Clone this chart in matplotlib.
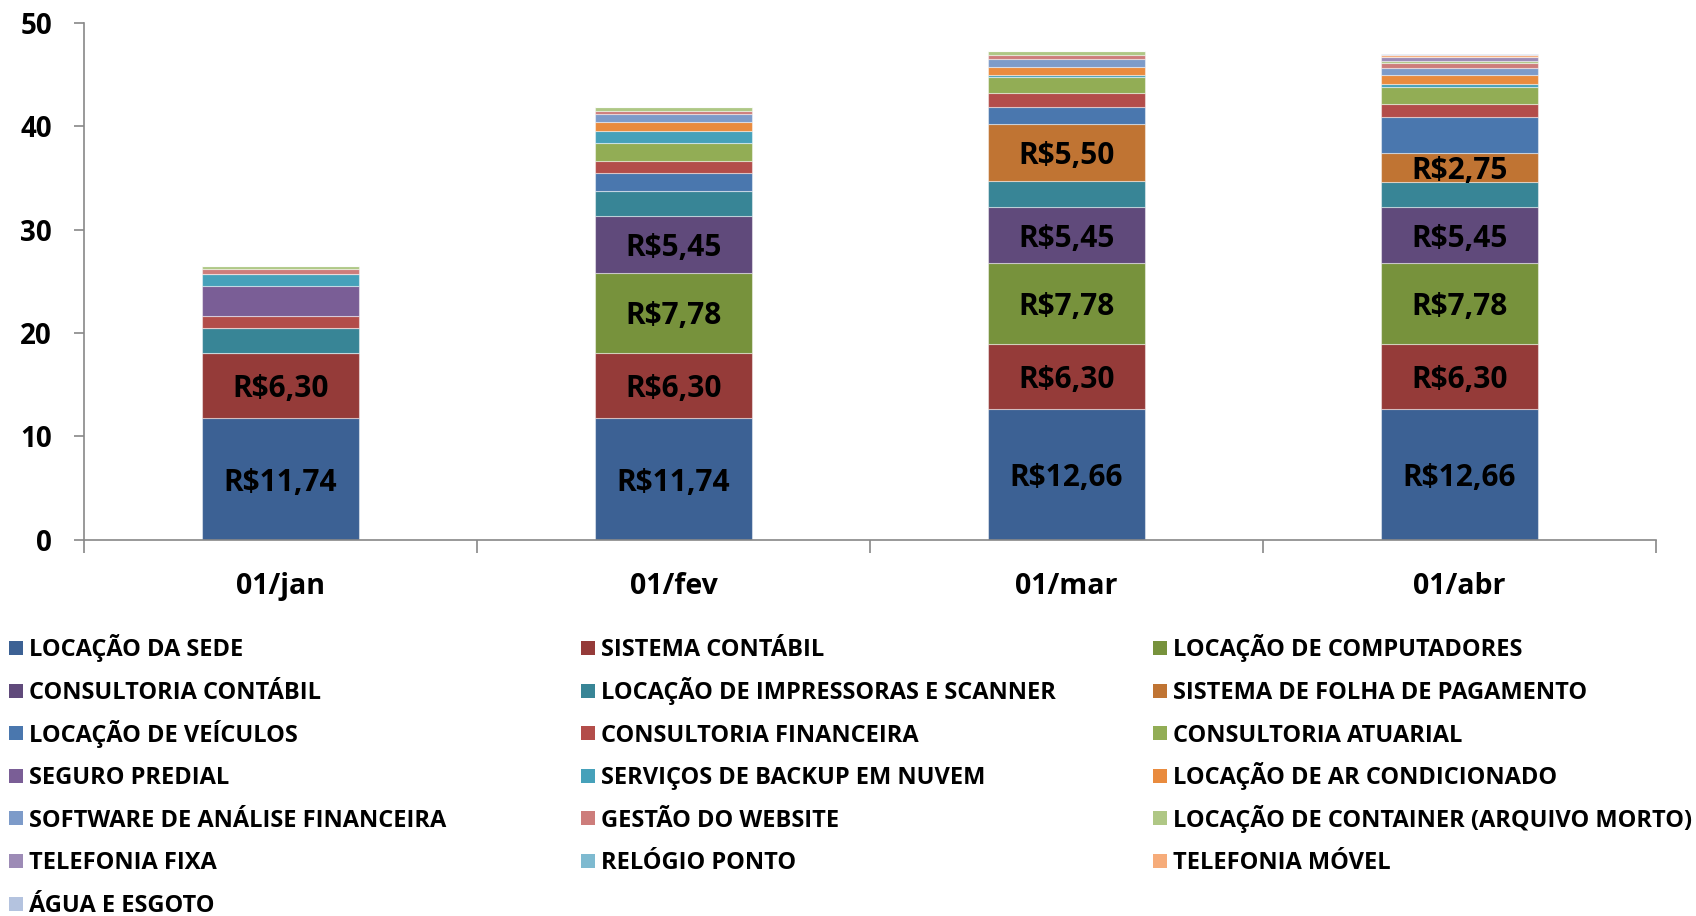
import matplotlib.pyplot as plt
import numpy as np
from matplotlib.patches import Rectangle

plt.rcParams['font.family'] = ['Open Sans', 'DejaVu Sans']
plt.rcParams['font.weight'] = 'bold'

datas = ['01/jan', '01/fev', '01/mar', '01/abr']

sede = [11.74, 11.74, 12.66, 12.66]
sistema_contabil = [6.30, 6.30, 6.30, 6.30]
computadores = [0, 7.78, 7.78, 7.78]
consultoria_contabil = [0, 5.45, 5.45, 5.45]
impressoras = [2.47, 2.42, 2.48, 2.45]
folha_pagamento = [0, 0, 5.50, 2.75]
veiculos = [0, 1.77, 1.71, 3.48]
consultoria_financeira = [1.16, 1.19, 1.29, 1.26]
consultoria_atuarial = [0, 1.71, 1.61, 1.67]
seguro_predial = [2.84, 0, 0, 0]
backup_nuvem = [1.23, 1.20, 0.13, 0.26]
ar_condicionado = [0, 0.81, 0.84, 0.87]
software_analise = [0, 0.77, 0.71, 0.68]
gestao_website = [0.45, 0.35, 0.42, 0.45]
container = [0.32, 0.33, 0.38, 0.26]
telefonia_fixa = [0, 0, 0, 0.35]
relogio_ponto = [0, 0, 0, 0.05]
telefonia_movel = [0, 0, 0, 0.15]
agua_esgoto = [0, 0, 0, 0.10]

series = [
    ('LOCAÇÃO DA SEDE', sede, '#3C6194', True),
    ('SISTEMA CONTÁBIL', sistema_contabil, '#953B39', True),
    ('LOCAÇÃO DE COMPUTADORES', computadores, '#77923C', True),
    ('CONSULTORIA CONTÁBIL', consultoria_contabil, '#604A7B', True),
    ('LOCAÇÃO DE IMPRESSORAS E SCANNER', impressoras, '#388596', False),
    ('SISTEMA DE FOLHA DE PAGAMENTO', folha_pagamento, '#C07433', True),
    ('LOCAÇÃO DE VEÍCULOS', veiculos, '#4A77AE', False),
    ('CONSULTORIA FINANCEIRA', consultoria_financeira, '#B34D4A', False),
    ('CONSULTORIA ATUARIAL', consultoria_atuarial, '#92AD55', False),
    ('SEGURO PREDIAL', seguro_predial, '#7A5E96', False),
    ('SERVIÇOS DE BACKUP EM NUVEM', backup_nuvem, '#46A1BA', False),
    ('LOCAÇÃO DE AR CONDICIONADO', ar_condicionado, '#E98B3E', False),
    ('SOFTWARE DE ANÁLISE FINANCEIRA', software_analise, '#7D9BC9', False),
    ('GESTÃO DO WEBSITE', gestao_website, '#CD7D7B', False),
    ('LOCAÇÃO DE CONTAINER (ARQUIVO MORTO)', container, '#AFC785', False),
    ('TELEFONIA FIXA', telefonia_fixa, '#9D8BB6', False),
    ('RELÓGIO PONTO', relogio_ponto, '#7EBAD0', False),
    ('TELEFONIA MÓVEL', telefonia_movel, '#F6AC7A', False),
    ('ÁGUA E ESGOTO', agua_esgoto, '#B4C3DF', False),
]

fig = plt.figure(figsize=(16.96, 9.16), dpi=100)
ax = fig.add_axes([0.0495, 0.4108, 0.9269, 0.5644])

x = np.arange(len(datas))
base = np.zeros(len(datas))
for nome, vals, cor, rotulo in series:
    vals = np.array(vals, dtype=float)
    ax.bar(x, vals, 0.4, bottom=base, color=cor, edgecolor=(1, 1, 1, 0.45), linewidth=0.8)
    if rotulo:
        for xi, b, v in zip(x, base, vals):
            if v > 0:
                txt = 'R$' + f'{v:.2f}'.replace('.', ',')
                ax.text(xi, b + v / 2, txt, ha='center', va='center_baseline',
                        fontsize=21.5, fontweight='bold', color='black')
    base += vals

ax.set_xlim(-0.5, 3.5)
ax.set_ylim(0, 50)
ax.set_yticks([0, 10, 20, 30, 40, 50])
ax.set_xticks(x)
ax.set_xticklabels(datas)
ax.set_xticks([-0.5, 0.5, 1.5, 2.5, 3.5], minor=True)
ax.tick_params(axis='x', which='major', length=0, pad=23, labelsize=20.5)
ax.tick_params(axis='x', which='minor', length=9, color='#888888', width=1.2)
ax.tick_params(axis='y', length=7, color='#888888', width=1.2, pad=16, labelsize=20)
for lab in ax.get_xticklabels() + ax.get_yticklabels():
    lab.set_fontweight('bold')
for s in ['top', 'right']:
    ax.spines[s].set_visible(False)
for s in ['left', 'bottom']:
    ax.spines[s].set_color('#888888')
    ax.spines[s].set_linewidth(1.2)

# legenda em 3 colunas, preenchida por linha
W, H = 1696, 916
col_x = [9, 581, 1153]
row_y0 = 648
row_dy = 42.6
box = 14
for i, (nome, vals, cor, rotulo) in enumerate(series):
    r, c = divmod(i, 3)
    px = col_x[c]
    py = row_y0 + r * row_dy
    fig.patches.append(Rectangle((px / W, 1 - (py + box / 2) / H), box / W, box / H,
                                 transform=fig.transFigure, facecolor=cor, edgecolor='none'))
    fig.text((px + box + 6) / W, 1 - (py + 8.4) / H, nome, ha='left', va='baseline',
             fontsize=17, fontweight='bold', color='black')

fig.savefig('out.png', dpi=100)
